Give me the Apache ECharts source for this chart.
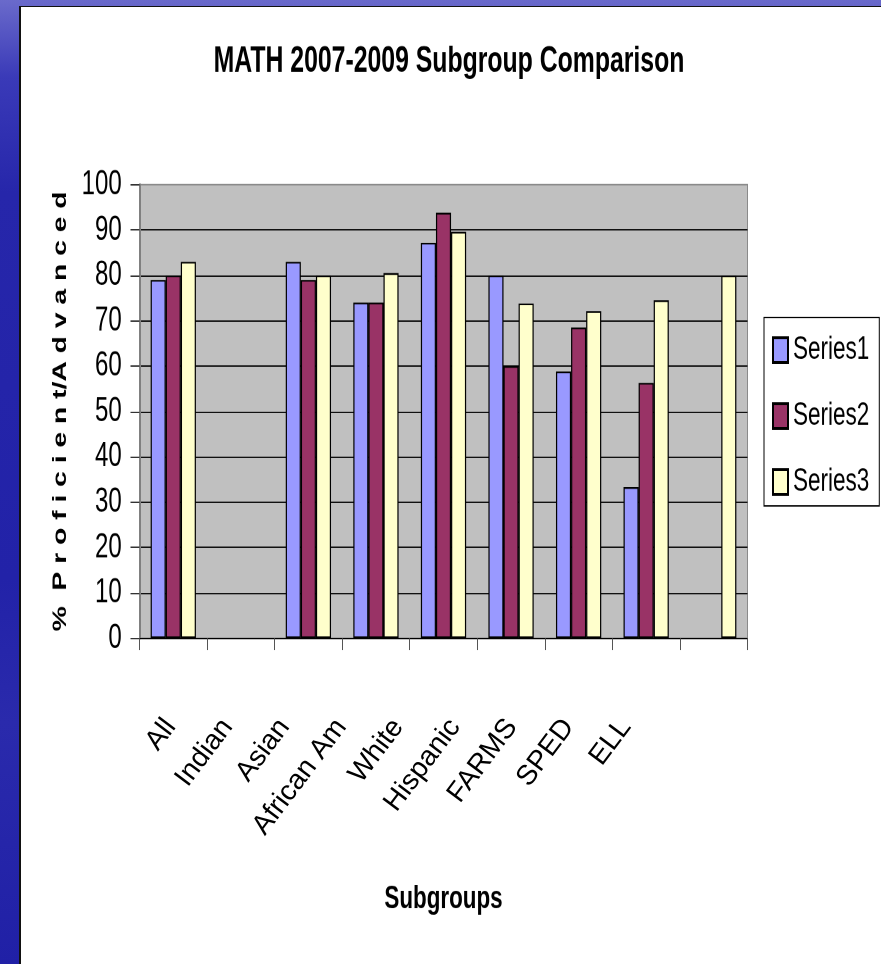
<!DOCTYPE html>
<html>
<head>
<meta charset="utf-8">
<script src="https://cdn.jsdelivr.net/npm/echarts@6/dist/echarts.min.js"></script>
<style>
  html, body { margin: 0; padding: 0; }
  body {
    width: 881px; height: 964px; overflow: hidden; position: relative;
    background: linear-gradient(to bottom, #6a6acb 0%, #3a3ab8 8%, #2626aa 20%, #2222a8 60%, #2a2aac 75%, #2020a6 100%);
  }
  #panel {
    position: absolute; left: 19px; top: 6px; right: 0; bottom: 0;
    background: #ffffff; border-left: 2px solid #111; border-top: 1px solid #111;
  }
  /* the reference chart is an Excel picture stretched vertically; reproduce that stretch */
  #chart { position: absolute; left: 0; top: 0; width: 881px; height: 665px;
           transform: scaleY(1.4496); transform-origin: 0 0; }
  /* rotated category labels are drawn unstretched, as in the reference */
  #labels { position: absolute; left: 0; top: 0; width: 881px; height: 964px; }
</style>
</head>
<body>
<div id="panel"></div>
<div id="chart"></div>
<div id="labels"></div>
<script>
const categories = ['All', 'Indian', 'Asian', 'African Am', 'White', 'Hispanic', 'FARMS', 'SPED', 'ELL'];
const seriesNames = ['Series1', 'Series2', 'Series3'];
const series1 = [79, null, 83, 74, 87.2, 80, 58.8, 33.3, null];
const series2 = [80, null, 79, 74, 93.8, 60, 68.5, 56.3, null];
const series3 = [83, null, 80, 80.5, 89.6, 73.8, 72.1, 74.5, 80];
const yMin = 0, yMax = 100, yStep = 10;

const FONT = "'Liberation Sans', Arial, Helvetica, sans-serif";
const colors = ['#9999ff', '#993366', '#ffffcc'];
const values = [series1, series2, series3];

const chart = echarts.init(document.getElementById('chart'), null, { renderer: 'canvas', devicePixelRatio: 2 });
chart.setOption({
  animation: false,
  backgroundColor: 'transparent',
  title: {
    text: 'MATH 2007-2009 Subgroup Comparison',
    left: 449, top: 30, textAlign: 'center', padding: 0,
    textStyle: { fontFamily: FONT, fontWeight: 'bold', fontSize: 24.8, color: '#000', lineHeight: 25 }
  },
  legend: {
    orient: 'vertical',
    left: 764, top: 219,
    padding: [11, 10, 5, 8],
    itemGap: 22.5,
    itemWidth: 15, itemHeight: 17,
    icon: 'rect',
    borderColor: '#000', borderWidth: 1,
    backgroundColor: '#fff',
    textStyle: { fontFamily: FONT, fontSize: 22.5, color: '#000', lineHeight: 22 },
    data: seriesNames
  },
  grid: [
    { left: 139.5, top: 127.4, width: 608, height: 312.8, show: true,
      backgroundColor: '#c0c0c0', borderColor: '#8a8a8a', borderWidth: 1, containLabel: false }
  ],
  xAxis: [
    {
      type: 'category', gridIndex: 0, data: categories,
      axisLine: { show: true, lineStyle: { color: '#000', width: 1 } },
      axisTick: { show: true, interval: 0, length: 8.3, inside: false, lineStyle: { color: '#555' } },
      axisLabel: { show: false, interval: 0 },
      name: 'Subgroups', nameLocation: 'middle', nameGap: 169,
      nameTextStyle: { fontFamily: FONT, fontWeight: 'bold', fontSize: 22.4, color: '#000', lineHeight: 22 }
    }
  ],
  yAxis: [
    {
      type: 'value', gridIndex: 0, min: yMin, max: yMax, interval: yStep,
      axisLine: { show: true, lineStyle: { color: '#808080', width: 2 } },
      axisTick: { show: true, length: 9, inside: false, lineStyle: { color: '#333' } },
      axisLabel: { margin: 17.8, fontFamily: FONT, fontSize: 24, color: '#000' },
      splitLine: { show: true, showMaxLine: false, showMinLine: false, lineStyle: { color: '#111', width: 1 } },
      name: '%  P r o f i c i e n t/A d v a n c e d',
      nameLocation: 'middle', nameGap: 68, nameRotate: 90,
      nameTextStyle: { fontFamily: FONT, fontWeight: 'bold', fontSize: 19.5, color: '#000', lineHeight: 20 }
    }
  ],
  series: seriesNames.map((n, i) => ({
    name: n, type: 'bar', xAxisIndex: 0, yAxisIndex: 0,
    data: values[i],
    barGap: '0%', barCategoryGap: '33%',
    itemStyle: { color: colors[i], borderColor: '#000', borderWidth: 1.2 }
  }))
});

const labelChart = echarts.init(document.getElementById('labels'), null, { renderer: 'canvas', devicePixelRatio: 2 });
labelChart.setOption({
  animation: false,
  backgroundColor: 'transparent',
  grid: { left: 142, top: 184.7, width: 512, height: 453.6, show: false, containLabel: false },
  xAxis: {
    type: 'category', data: categories,
    axisLine: { show: false }, axisTick: { show: false },
    axisLabel: { show: true, interval: 0, rotate: 53, margin: 84,
      fontFamily: FONT, fontSize: 28, color: '#000' }
  },
  yAxis: { type: 'value', min: yMin, max: yMax, show: false },
  series: []
});
</script>
</body>
</html>
